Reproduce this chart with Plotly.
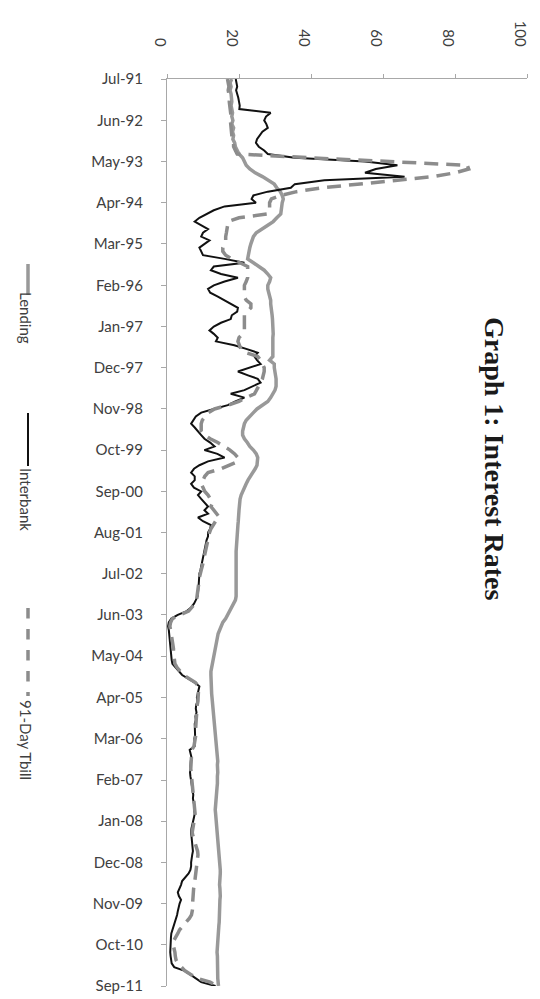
import pandas as pd
import plotly.graph_objects as go

# Monthly observations, Jul-1991 .. Sep-2011
dates = pd.date_range("1991-07-01", "2011-09-01", freq="MS")

lending = [
    18, 17.5, 17.8, 17.5, 17.8, 18,
    18, 17.8, 18, 18.2, 18, 18.3, 18, 18.5, 18.2, 18.5, 18.3, 18.8,
    19, 19.5, 20, 21, 21.5, 22, 23, 24.5, 26.5, 28, 29.8, 30.5,
    31.5, 32, 32.3, 32, 31.8, 31.6, 31.6, 30.5, 29.5, 28, 26.5, 24.8,
    24, 23.5, 23.3, 23, 22.8, 22.5, 22.4, 24, 25.5, 27, 28, 28.8,
    28.5, 28, 28, 28.3, 28.5, 28.8, 28.8, 29, 29, 29.2, 29.3, 29.4,
    29.4, 29.4, 29.5, 29.4, 29.4, 29.5, 29.4, 29.6, 29.4, 28.5, 29.8, 29.8,
    30, 30.2, 30.3, 30.3, 30.3, 30, 29.5, 28.8, 28, 26.5, 25, 24,
    23, 22, 21.5, 21.2, 21, 21, 21.5, 22.3, 23, 24, 24.8, 25.2,
    25.2, 25, 24.5, 23.8, 23, 22.5, 22, 21.5, 21, 20.6, 20.3, 20.1,
    20.1, 20, 20, 19.8, 19.8, 19.7, 19.6, 19.5, 19.5, 19.4, 19.3, 19.3,
    19.2, 19.2, 19.2, 19.3, 19.2, 19.2, 19.2, 19.2, 19.2, 19.2, 19.2, 19.2,
    19.2, 19, 18.5, 18, 17.5, 16.9, 16.3, 15.5, 15, 14.5, 14.2, 14,
    13.8, 13.6, 13.4, 13.2, 13, 12.7, 12.5, 12.3, 12.2, 12.2, 12.2, 12.2,
    12.3, 12.3, 12.4, 12.5, 12.6, 12.8, 12.9, 13, 13, 13.1, 13.2, 13.2,
    13.3, 13.4, 13.5, 13.6, 13.7, 13.8, 13.9, 14, 14.1, 14, 14.1, 14.1,
    14, 14.1, 14, 13.9, 13.8, 13.7, 13.6, 13.5, 13.4, 13.4, 13.5, 13.6,
    13.6, 13.8, 13.9, 14, 14, 14.1, 14.2, 14.3, 14.5, 14.6, 14.6, 14.7,
    14.7, 14.8, 14.8, 14.7, 14.6, 14.6, 14.7, 14.8, 14.8, 14.7, 14.7, 14.6,
    14.6, 14.6, 14.5, 14.5, 14.4, 14.3, 14.2, 14.1, 14, 14, 13.9, 13.9,
    14, 14, 13.9, 13.9, 14, 14, 14.1, 14.2, 14.3,
]

interbank = [
    19.1, 19.3, 19.5, 19.2, 19.6, 19.8,
    20, 20.2, 20.1, 28.8, 27.5, 27, 27.6, 28, 26.5, 25.7, 25, 24.7,
    25.5, 27, 28, 35.4, 55, 64, 58, 55, 66, 43.7, 35.5, 34.4,
    28, 24, 23.5, 24.7, 16, 13, 11, 9, 7.7, 9.5, 11.4, 10,
    9.5, 11.8, 10.5, 9, 9.5, 10, 16, 21.5, 13, 12.2, 15, 19.7,
    16, 13, 11.4, 12, 14, 16, 18, 19.7, 19.5, 18, 17.7, 15,
    13, 11.8, 13, 14.1, 13.6, 18.7, 22, 25.2, 24.3, 25, 26, 23,
    19.7, 22.5, 25.2, 26, 24, 21.5, 17.7, 21.5, 19, 16.9, 13, 9.5,
    8, 7.2, 6.7, 7.7, 8.5, 9.5, 10.4, 12, 13.2, 10.4, 14, 16,
    11.4, 9, 7.5, 6.7, 7.7, 7.7, 6.7, 7.5, 9.5, 8.6, 9.5, 10.4,
    11.4, 10.4, 11.4, 8.6, 10, 12.2, 12, 11.4, 11.4, 11, 10.8, 10.6,
    10.4, 10.2, 10, 9.8, 9.5, 9.3, 9, 9, 8.8, 8.8, 8.7, 8.6,
    8.5, 8, 7.5, 6.7, 5.5, 3, 1.2, 0.5, 0.3, 0.5, 0.6, 0.7,
    0.7, 0.8, 1, 1.2, 1.2, 1.3, 1.5, 2.5, 3.5, 4.2, 6, 7.7,
    9, 8.7, 8.5, 8.3, 8.5, 8.1, 8, 8.2, 7.9, 8, 7.7, 7.8,
    7.7, 7.8, 7.6, 7.7, 7.7, 6.3, 6.5, 6.8, 6.6, 6.5, 6.3, 6.4,
    6.5, 6.7, 6.8, 7, 7.2, 7.3, 7.2, 7.5, 7.6, 7.5, 7.7, 7.5,
    7.2, 7, 6.8, 6.7, 6.8, 6.9, 7, 7.2, 7.2, 7, 6.8, 6.7,
    6.7, 6.5, 6, 5, 4.2, 3.9, 3.5, 3, 3.3, 3.9, 3.5, 3.2,
    3, 2.8, 2.5, 2.2, 1.8, 1.4, 1.2, 1.1, 1, 0.9, 0.8, 0.9,
    1, 1.2, 1.3, 2, 4.9, 6.5, 8, 9.5, 13.5,
]

tbill = [
    16.8, 17, 17.2, 17, 17.3, 17.4,
    17.3, 17.4, 17.5, 17.6, 17.8, 17.6, 17.7, 17.9, 18, 17.9, 18.1, 18.5,
    18.5, 19, 19.5, 40, 64, 83.4, 83.8, 80, 74, 63, 53, 43,
    36, 31.6, 29, 28.5, 28.5, 28.5, 28, 20, 17, 16.9, 16.8, 16.5,
    16.3, 16.3, 16, 15.5, 15.5, 16.3, 18, 20.5, 22.4, 22.4, 22.4, 22.4,
    22, 21.5, 21.5, 21.5, 21.5, 22, 23.3, 23.3, 22.5, 21.5, 21.5, 21.5,
    21.5, 21.5, 21, 20, 19.7, 20, 20.5, 22, 25.2, 26, 26.5, 27,
    27, 26.8, 26.5, 26, 25.5, 25, 24.3, 22, 20, 17, 13.2, 11.5,
    10.5, 9.8, 9.5, 9.5, 9.5, 10.5, 12, 14.1, 16, 17.5, 18.8, 19.7,
    19.7, 17, 15, 11.4, 10.5, 10, 9.5, 10, 10.5, 11.4, 12, 12.7,
    12.2, 13, 13.8, 14.6, 13.5, 12.7, 12.2, 11.8, 11.6, 11.4, 11.2, 11,
    10.8, 10.5, 10.3, 10, 9.8, 9.5, 9.2, 9, 8.9, 8.8, 8.7, 8.6,
    8.5, 8.2, 7.8, 7, 6, 3.5, 1.5, 1, 0.8, 1, 1.2, 1.3,
    1.5, 1.6, 1.8, 1.8, 1.9, 2, 2.2, 2.8, 3.8, 4.5, 6.2, 7.9,
    8.8, 8.8, 8.7, 8.6, 8.6, 8.4, 8.3, 8.4, 8.2, 8.1, 8, 8,
    7.9, 8, 7.8, 7.8, 7.5, 6.9, 6.8, 6.9, 6.8, 6.7, 6.6, 6.7,
    6.8, 6.9, 7, 7.2, 7.4, 7.5, 7.4, 7.6, 7.8, 7.7, 7.8, 7.7,
    7.5, 7.3, 7, 7, 7.2, 7.5, 8, 8.3, 8.5, 8.6, 8.5, 8.3,
    8.2, 8, 7.9, 7.8, 7.7, 7.6, 7.4, 7.3, 7.2, 7.2, 7.1, 7.2,
    7, 6.8, 6.2, 5.3, 4.5, 3.5, 3, 2.3, 1.8, 1.7, 2, 2.2,
    2.3, 2.5, 3, 4, 5, 6.7, 8.5, 12, 14,
]

value_ticks = [0, 20, 40, 60, 80, 100]
series_names = ["Lending", "Interbank", "91-Day Tbill"]
title_text = "Graph 1: Interest Rates"

W, H = 540, 999
L, R, T, B = 159, 21, 71, 21
PW, PH = W - L - R, H - T - B

def px(xp):
    return (xp - L) / PW

def py(yp):
    return 1 - (yp - T) / PH

fig = go.Figure()
fig.add_trace(go.Scatter(x=lending, y=dates, mode="lines", name=series_names[0],
                         line=dict(color="#999999", width=3.5)))
fig.add_trace(go.Scatter(x=interbank, y=dates, mode="lines", name=series_names[1],
                         line=dict(color="#111111", width=2)))
fig.add_trace(go.Scatter(x=tbill, y=dates, mode="lines", name=series_names[2],
                         line=dict(color="#8c8c8c", width=3.5, dash="14px,8px")))

fig.update_layout(
    template="none",
    width=W, height=H,
    margin=dict(l=L, r=R, t=T, b=B, autoexpand=False),
    paper_bgcolor="white", plot_bgcolor="white",
    showlegend=False,
    font=dict(family="Lato, Open Sans, sans-serif", color="#404040", size=15),
    xaxis=dict(
        range=[0, 100], side="top", tickvals=value_ticks, tickangle=90,
        showgrid=False, zeroline=False, showline=True, linecolor="#a8a8a8",
        linewidth=1, ticks="outside", ticklen=4, tickcolor="#a8a8a8",
        ticklabelstandoff=22, ticklabelshift=-7,
        tickfont=dict(size=15, color="#404040"),
        automargin=False,
    ),
    yaxis=dict(
        type="date", range=["2011-09-01", "1991-07-01"],
        tick0="1991-07-01", dtick="M11", tickformat="%b-%y",
        showgrid=False, zeroline=False, showline=True, linecolor="#a8a8a8",
        linewidth=1, ticks="outside", ticklen=5, tickcolor="#a8a8a8",
        ticklabelstandoff=15, tickfont=dict(size=15, color="#404040"),
        automargin=False,
    ),
)

# Title (rotated, right side)
fig.add_annotation(text="<b>%s</b>" % title_text, xref="paper", yref="paper",
                   x=px(486), y=py(450), xanchor="center", yanchor="middle",
                   showarrow=False, textangle=90,
                   font=dict(family="Liberation Serif, Times New Roman, serif",
                             size=28, color="#1a1a1a"))

# Legend (rotated, left side)
legend_items = [
    (series_names[0], "#999999", 3.5, "solid", 256, 287, 310),
    (series_names[1], "#111111", 2, "solid", 405, 458, 491),
    (series_names[2], "#8c8c8c", 3.5, "dash", 600, 688, 732),
]
for name, col, w, dash, y0, y1, yc in legend_items:
    fig.add_shape(type="line", xref="paper", yref="paper",
                  x0=px(20), x1=px(20), y0=py(y0), y1=py(y1),
                  line=dict(color=col, width=w, dash=dash))
    fig.add_annotation(text=name, xref="paper", yref="paper",
                       x=px(18), y=py(yc), xanchor="center", yanchor="middle",
                       showarrow=False, textangle=90,
                       font=dict(size=15, color="#404040"))

fig.write_html("out.html")
